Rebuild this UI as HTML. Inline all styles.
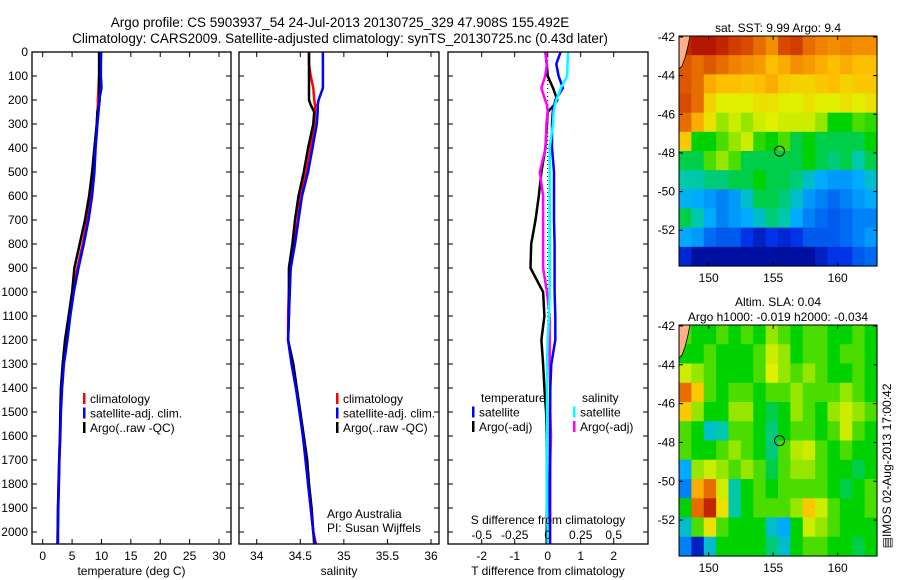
<!DOCTYPE html>
<html><head><meta charset="utf-8">
<style>
html,body{margin:0;padding:0;background:#fff;}
svg{display:block;font-family:"Liberation Sans",sans-serif;}
text{fill:#000;}
</style></head>
<body>
<svg id="fig" width="900" height="580" viewBox="0 0 900 580">
<text x="340" y="27" font-size="13.5" text-anchor="middle">Argo profile: CS 5903937_54 24-Jul-2013 20130725_329 47.908S 155.492E</text>
<text x="340" y="43" font-size="13.5" text-anchor="middle">Climatology: CARS2009. Satellite-adjusted climatology: synTS_20130725.nc (0.43d later)</text>
</svg>
<script>
// ---- profile data ----
const depths = [0,50,100,150,200,220,250,300,400,500,600,700,800,900,1000,1100,1200,1300,1400,1500,1600,1700,1800,1900,2000,2050];
const tempClim = [9.7,9.7,9.6,9.5,9.4,9.4,9.3,9.2,8.9,8.6,8.2,7.6,6.8,5.9,5.1,4.5,4.0,3.5,3.2,3.05,2.95,2.8,2.7,2.6,2.55,2.5];
const tempSat  = [9.95,9.9,9.9,10.0,9.6,9.6,9.5,9.3,9.0,8.8,8.4,7.8,7.0,6.1,5.3,4.7,4.2,3.6,3.3,3.1,3.0,2.85,2.75,2.65,2.6,2.6];
const tempArgo = [9.6,9.6,9.6,9.6,9.7,9.6,9.3,9.2,8.8,8.4,7.9,7.2,6.3,5.4,5.0,4.4,3.8,3.4,3.1,3.0,2.95,2.8,2.7,2.6,2.55,2.55];
const salClim = [34.60,34.60,34.62,34.65,34.66,34.67,34.67,34.66,34.62,34.57,34.50,34.47,34.43,34.39,34.37,34.36,34.36,34.40,34.45,34.50,34.53,34.57,34.59,34.62,34.65,34.68];
const salSat  = [34.76,34.76,34.76,34.76,34.71,34.70,34.70,34.69,34.64,34.59,34.52,34.48,34.44,34.39,34.38,34.37,34.36,34.40,34.45,34.49,34.53,34.56,34.59,34.62,34.65,34.67];
const salArgo = [34.60,34.60,34.60,34.60,34.60,34.62,34.66,34.65,34.59,34.54,34.48,34.44,34.41,34.37,34.37,34.37,34.36,34.42,34.46,34.50,34.54,34.58,34.60,34.63,34.65,34.66];
const dTsat  = [0.39,0.26,0.33,0.46,0.23,0.2,0.15,0.13,0.13,0.19,0.19,0.19,0.21,0.21,0.21,0.23,0.23,0.11,0.08,0.07,0.07,0.07,0.06,0.06,0.06,0.06];
const dSsat  = [0.154,0.15,0.148,0.10,0.065,0.055,0.045,0.04,0.015,0.015,0.015,0.015,0.015,0.015,0.015,0.01,0.0,-0.005,-0.005,-0.005,-0.005,-0.005,-0.005,-0.005,0,0];
const dTargo = [-0.07,-0.03,0,0.16,0.29,0.2,0,-0.02,-0.07,-0.19,-0.27,-0.37,-0.5,-0.52,-0.14,-0.1,-0.19,-0.14,-0.1,-0.05,-0.03,-0.02,-0.02,-0.02,-0.03,-0.03];
const dSargo = [-0.018,-0.006,-0.019,-0.048,-0.02,-0.005,0,-0.01,-0.016,-0.06,-0.035,-0.035,-0.035,-0.035,-0.005,0.015,0.015,0.015,0.02,0.02,0.025,0.02,0.02,0.02,0.02,0.02];
const depthTicks = [0,100,200,300,400,500,600,700,800,900,1000,1100,1200,1300,1400,1500,1600,1700,1800,1900,2000];
const tempTicks = [0,5,10,15,20,25,30];
const salTicks = [34,34.5,35,35.5,36];
const salTickLabels = ["34","34.5","35","35.5","36"];
const dTTicks = [-2,-1,0,1,2];
const dSTicks = [-0.5,-0.25,0,0.25,0.5];
const dSTickLabels = ["-0.5","-0.25","0","0.25","0.5"];
// ---- map data (0..1 colour index), rows north->south ----
const sstGrid = [
[0.95,0.97,0.97,0.95,0.92,0.9,0.85,0.8,0.9,0.92,0.85,0.82,0.8,0.82,0.8,0.8],
[0.88,0.85,0.88,0.85,0.82,0.8,0.78,0.72,0.75,0.8,0.78,0.75,0.72,0.75,0.72,0.72],
[0.88,0.85,0.75,0.72,0.72,0.7,0.72,0.75,0.7,0.68,0.68,0.7,0.72,0.68,0.7,0.7],
[0.9,0.85,0.68,0.62,0.62,0.62,0.65,0.65,0.62,0.62,0.65,0.62,0.62,0.65,0.62,0.65],
[0.85,0.75,0.65,0.55,0.6,0.55,0.6,0.62,0.6,0.6,0.6,0.55,0.45,0.45,0.5,0.48],
[0.7,0.45,0.45,0.5,0.55,0.6,0.48,0.45,0.5,0.42,0.45,0.42,0.42,0.42,0.42,0.45],
[0.42,0.42,0.5,0.55,0.5,0.42,0.42,0.42,0.42,0.42,0.45,0.42,0.4,0.42,0.38,0.42],
[0.38,0.38,0.4,0.4,0.42,0.42,0.45,0.42,0.42,0.4,0.35,0.3,0.28,0.28,0.3,0.35],
[0.32,0.3,0.28,0.25,0.28,0.35,0.42,0.42,0.4,0.35,0.28,0.25,0.22,0.25,0.28,0.3],
[0.42,0.38,0.3,0.25,0.28,0.3,0.35,0.4,0.38,0.3,0.25,0.22,0.2,0.22,0.25,0.25],
[0.3,0.28,0.22,0.2,0.2,0.15,0.1,0.15,0.12,0.15,0.2,0.2,0.2,0.22,0.25,0.28],
[0.12,0.05,0.05,0.05,0.05,0.05,0.05,0.05,0.05,0.05,0.05,0.1,0.15,0.15,0.2,0.22]];
const slaGrid = [
[0.5,0.45,0.45,0.5,0.45,0.5,0.45,0.55,0.5,0.45,0.5,0.5,0.45,0.45,0.5,0.45],
[0.45,0.45,0.5,0.45,0.45,0.45,0.5,0.6,0.55,0.45,0.5,0.5,0.45,0.5,0.5,0.45],
[0.6,0.55,0.5,0.45,0.45,0.45,0.5,0.62,0.55,0.5,0.55,0.5,0.45,0.45,0.5,0.45],
[0.85,0.7,0.5,0.45,0.5,0.5,0.45,0.5,0.5,0.55,0.5,0.5,0.5,0.55,0.5,0.45],
[0.7,0.55,0.45,0.45,0.55,0.55,0.45,0.42,0.45,0.55,0.5,0.45,0.55,0.6,0.55,0.5],
[0.5,0.45,0.35,0.38,0.5,0.5,0.45,0.4,0.45,0.5,0.5,0.45,0.5,0.6,0.5,0.45],
[0.5,0.45,0.45,0.5,0.55,0.5,0.45,0.4,0.5,0.58,0.6,0.5,0.45,0.5,0.45,0.45],
[0.3,0.55,0.6,0.55,0.5,0.55,0.5,0.42,0.5,0.55,0.55,0.5,0.45,0.45,0.42,0.45],
[0.25,0.75,0.85,0.6,0.38,0.45,0.5,0.45,0.5,0.5,0.5,0.5,0.45,0.42,0.45,0.5],
[0.45,0.85,0.95,0.65,0.38,0.45,0.5,0.5,0.5,0.55,0.7,0.6,0.5,0.45,0.45,0.5],
[0.35,0.5,0.65,0.5,0.45,0.45,0.45,0.35,0.3,0.45,0.6,0.55,0.5,0.45,0.45,0.45],
[0.25,0.1,0.35,0.45,0.45,0.45,0.45,0.4,0.35,0.45,0.5,0.5,0.45,0.45,0.42,0.45]];
const lonTicks = [150,155,160];
const latTicks = [-42,-44,-46,-48,-50,-52];
const argoLon = 155.492, argoLat = -47.908;

const NS = "http://www.w3.org/2000/svg";
const svg = document.getElementById('fig');
function mk(tag, attrs, parent){ const e=document.createElementNS(NS,tag); for(const k in attrs) e.setAttribute(k,attrs[k]); (parent||svg).appendChild(e); return e; }
function txt(x,y,s,size,anchor,parent){ const t=mk('text',{x:x,y:y,'font-size':size||12,'text-anchor':anchor||'middle'},parent); t.textContent=s; return t; }

const PT=52, PB=544;
const yD = d => PT + d*0.24;
function lin(d0,d1,r0,r1){ return v => r0 + (v-d0)*(r1-r0)/(d1-d0); }

function panel(name,L,R,xs,ticks,labels,xlabel,showY){
  const g = mk('g',{});
  
  
  // ticks
  ticks.forEach((v,i)=>{
    const x=xs(v);
    mk('line',{x1:x,x2:x,y1:PB,y2:PB-5,stroke:'#000','stroke-width':1},g);
    mk('line',{x1:x,x2:x,y1:PT,y2:PT+5,stroke:'#000','stroke-width':1},g);
    if(labels){ const t=txt(x,PB+16,labels[i],12,'middle',g);
      
       }
  });
  depthTicks.forEach(d=>{
    const y=yD(d);
    mk('line',{x1:L,x2:L+5,y1:y,y2:y,stroke:'#000','stroke-width':1},g);
    mk('line',{x1:R,x2:R-5,y1:y,y2:y,stroke:'#000','stroke-width':1},g);
    if(showY){ const t=txt(L-4,y+4,String(d),12,'end',g);
      
       }
  });
  if(xlabel){ const t=txt((L+R)/2,PB+31,xlabel,12,'middle',g);
    
     }
  return g;
}
function series(g,name,vals,xs,color){
  const pts = vals.map((v,i)=>xs(v).toFixed(1)+','+yD(depths[i]).toFixed(1)).join(' ');
  const p = mk('polyline',{points:pts,fill:'none',stroke:color,'stroke-width':2.5,'stroke-linejoin':'miter'},g);
  
  
}
function frame(g,L,R){ mk('rect',{x:L,y:PT,width:R-L,height:PB-PT,fill:'none',stroke:'#000','stroke-width':1.3},g); }
function legend(g,x,y,items){
  items.forEach((it,i)=>{
    const yy=y+i*14.5;
    const m=mk('rect',{x:x,y:yy-10,width:2.5,height:11,fill:it[1]},g);
    
    
    const t=txt(x+7,yy,it[0],12,'start',g);
    
    
  });
}

// Panel 1: temperature
const xT = lin(0,30,42.7,219);
const g1 = panel('temperature-panel',32,231,xT,tempTicks,tempTicks.map(String),'temperature (deg C)',true);
series(g1,'temp-climatology-line',tempClim,xT,'#ff0000');
series(g1,'temp-argo-line',tempArgo,xT,'#000000');
series(g1,'temp-satellite-line',tempSat,xT,'#0000ff');
frame(g1,32,231);
legend(g1,83,403,[['climatology','#ff0000'],['satellite-adj. clim.','#0000ff'],['Argo(..raw -QC)','#000000']]);

// Panel 2: salinity
const xS = lin(34,36,256.7,431);
const g2 = panel('salinity-panel',239,439,xS,salTicks,salTickLabels,'salinity',false);
series(g2,'sal-climatology-line',salClim,xS,'#ff0000');
series(g2,'sal-argo-line',salArgo,xS,'#000000');
series(g2,'sal-satellite-line',salSat,xS,'#0000ff');
frame(g2,239,439);
legend(g2,336,403,[['climatology','#ff0000'],['satellite-adj. clim.','#0000ff'],['Argo(..raw -QC)','#000000']]);
const a1=txt(327,518,'Argo Australia',12,'start',g2);


const a2=txt(327,532,'PI: Susan Wijffels',12,'start',g2);



// Panel 3: differences
const xDT = lin(0,1,547.7,580.7);
const xDS = lin(0,0.25,547.7,580.7);
const g3 = panel('difference-panel',448,648,xDT,dTTicks,dTTicks.map(String),'T difference from climatology',false);
mk('line',{x1:xDT(0),x2:xDT(0),y1:PT,y2:PB,stroke:'#000','stroke-width':1,'stroke-dasharray':'1,3'},g3);
series(g3,'t-argo-diff-line',dTargo,xDT,'#000000');
series(g3,'s-argo-diff-line',dSargo,xDS,'#ff00ff');
series(g3,'t-satellite-diff-line',dTsat,xDT,'#0000ff');
series(g3,'s-satellite-diff-line',dSsat,xDS,'#00ffff');
frame(g3,448,648);
dSTicks.forEach((v,i)=>{ const t=txt(xDS(v),539,dSTickLabels[i],12,'middle',g3);
  
   });
const st=txt(548,524,'S difference from climatology',12,'middle',g3);


const lt=txt(481,402,'temperature',12,'start',g3);


const ls=txt(582,402,'salinity',12,'start',g3);


legend(g3,472,416.5,[['satellite','#0000ff'],['Argo(-adj)','#000000']]);
legend(g3,573,416.5,[['satellite','#00ffff'],['Argo(-adj)','#ff00ff']]);

// ---- maps ----
const cmapStops=[[0,[0,0,128]],[0.15,[0,50,230]],[0.3,[0,170,255]],[0.38,[0,200,170]],[0.45,[0,210,0]],[0.55,[150,230,0]],[0.62,[225,240,0]],[0.72,[255,190,0]],[0.82,[240,130,0]],[0.92,[210,60,0]],[1,[165,0,0]]];
function cmap(v){
  for(let i=1;i<cmapStops.length;i++){
    if(v<=cmapStops[i][0]){ const a=cmapStops[i-1],b=cmapStops[i]; const t=(v-a[0])/(b[0]-a[0]);
      return 'rgb('+a[1].map((c,k)=>Math.round(c+(b[1][k]-c)*t)).join(',')+')'; }
  }
  return 'rgb(165,0,0)';
}
const MX0=679, MX1=877;
const LON0=147.7, LON1=163.05, LAT0=-41.95, LAT1=-53.85;
function drawMap(name,grid,top,bot,titles){
  const g=mk('g',{});
  
  
  const xL=lin(LON0,LON1,MX0,MX1), yL=lin(LAT0,LAT1,top,bot);
  const rows=grid.length, cols=grid[0].length;
  const dLon=(LON1-LON0)/cols, dLat=(LAT1-LAT0)/rows;
  grid.forEach((row,r)=>row.forEach((v,c)=>{
    const x0=xL(LON0+c*dLon), x1=xL(LON0+(c+1)*dLon), y0=yL(LAT0+r*dLat), y1=yL(LAT0+(r+1)*dLat);
    const cell=mk('rect',{x:x0.toFixed(2),y:y0.toFixed(2),width:(x1-x0+0.6).toFixed(2),height:(y1-y0+0.6).toFixed(2),fill:cmap(v)},g);
    
    
  }));
  // coastline
  const coast=mk('path',{d:`M${MX0},${top} L${MX0+11},${top} L${MX0+9},${top+10} L${MX0+6},${top+22} L${MX0+3},${top+30} L${MX0},${top+33} Z`,fill:'#ffb08a',stroke:'#000','stroke-width':0.8},g);
  
  
  const c=mk('circle',{cx:xL(argoLon),cy:yL(argoLat),r:5,fill:'none',stroke:'#000','stroke-width':1},g);
  
  
  mk('rect',{x:MX0,y:top,width:MX1-MX0,height:bot-top,fill:'none',stroke:'#000','stroke-width':1},g);
  lonTicks.forEach(v=>{ const x=xL(v);
    mk('line',{x1:x,x2:x,y1:bot,y2:bot-4,stroke:'#000'},g);
    mk('line',{x1:x,x2:x,y1:top,y2:top+4,stroke:'#000'},g);
    const t=txt(x,bot+16,String(v),12,'middle',g);
    
     });
  latTicks.forEach(v=>{ const y=yL(v);
    mk('line',{x1:MX0,x2:MX0+4,y1:y,y2:y,stroke:'#000'},g);
    mk('line',{x1:MX1,x2:MX1-4,y1:y,y2:y,stroke:'#000'},g);
    const t=txt(MX0-4,y+4,String(v),12,'end',g);
    
     });
  titles.forEach((s,i)=>{ const t=txt(778,top-titles.length*15+11+i*15,s,12,'middle',g);
    
     });
}
drawMap('sst-map',sstGrid,36,266,['sat. SST: 9.99 Argo: 9.4']);
drawMap('sla-map',slaGrid,325,556,['Altim. SLA: 0.04','Argo h1000: -0.019 h2000: -0.034']);
const stamp=txt(0,0,'\u25A4IMOS 02-Aug-2013 17:00:42',12,'middle');
stamp.setAttribute('transform','translate(891,466) rotate(-90)');


</script>
</body></html>
